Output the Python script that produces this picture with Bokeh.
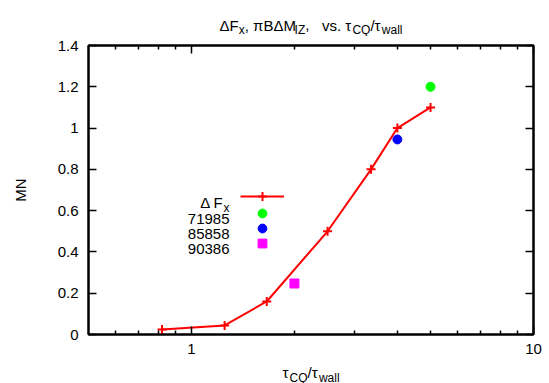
from bokeh.plotting import figure
from bokeh.layouts import column
from bokeh.models import (Range1d, FixedTicker, CustomJSTickFormatter, LogAxis, LinearAxis,
                          Label, Legend, LegendItem)
from bokeh.embed import file_html
from bokeh.resources import INLINE

# ---- data ----
x_fx = [0.82, 1.25, 1.66, 2.5, 3.35, 4.0, 5.0]
y_fx = [0.024, 0.044, 0.16, 0.5, 0.8, 1.0, 1.1]
x_71985 = [5.0]
y_71985 = [1.2]
x_85858 = [4.0]
y_85858 = [0.945]
x_90386 = [2.0]
y_90386 = [0.247]
x_major = [1, 10]
x_minor = [0.6, 0.7, 0.8, 0.9, 2, 3, 4, 5, 6, 7, 8, 9]
y_ticks = [0, 0.2, 0.4, 0.6, 0.8, 1, 1.2, 1.4]

FONT = "Liberation Sans"
FS = 15
SUB = 12
SHIFT = 5

TOTAL_W, TOTAL_H = 549, 383
TITLE_H, XLAB_H = 36, 21
MAIN_H = TOTAL_H - TITLE_H - XLAB_H
FRAME_L = 88  # frame left edge; column layout aligns the frames of the stacked figures

p = figure(width=TOTAL_W, height=MAIN_H, x_axis_type="log",
           x_range=Range1d(0.5, 10), y_range=Range1d(0, 1.4),
           output_backend="svg", toolbar_location=None,
           min_border_left=FRAME_L, min_border_right=16, min_border_top=45 - TITLE_H,
           min_border_bottom=TITLE_H + MAIN_H - 334)
p.title = None
p.grid.visible = False
p.outline_line_color = "black"
p.outline_line_width = 2

xt = FixedTicker(ticks=x_major, minor_ticks=x_minor)
yt = FixedTicker(ticks=y_ticks)
fmt = CustomJSTickFormatter(code="return tick.toString()")
blank = CustomJSTickFormatter(code="return ''")


def style(ax, show):
    ax.axis_line_color = "black"
    ax.axis_line_width = 2
    ax.major_tick_in = 8
    ax.major_tick_out = 0
    ax.minor_tick_in = 4
    ax.minor_tick_out = 0
    ax.major_tick_line_width = 1.5
    ax.minor_tick_line_width = 1.5
    ax.major_tick_line_color = "black"
    ax.minor_tick_line_color = "black"
    ax.major_label_text_font = FONT
    ax.major_label_text_font_size = f"{FS}px"
    ax.major_label_text_color = "black"
    ax.major_label_standoff = 10 if show else 0
    ax.formatter = fmt if show else blank


xa = p.xaxis[0]
xa.ticker = xt
style(xa, True)
xa.major_label_standoff = 9
ya = p.yaxis[0]
ya.ticker = yt
style(ya, True)
ya.axis_label = "MN"
ya.axis_label_text_font = FONT
ya.axis_label_text_font_size = f"{FS}px"
ya.axis_label_text_font_style = "normal"
ya.axis_label_text_color = "black"
ya.axis_label_standoff = 26

top = LogAxis(ticker=FixedTicker(ticks=x_major, minor_ticks=x_minor))
style(top, False)
p.add_layout(top, "above")
right = LinearAxis(ticker=FixedTicker(ticks=y_ticks))
style(right, False)
p.add_layout(right, "right")

# ---- data glyphs ----
r_line = p.line(x_fx, y_fx, line_color="#ff0000", line_width=2)
r_cross = p.scatter(x_fx, y_fx, marker="cross", size=9, line_color="#ff0000", line_width=2)
r_g = p.scatter(x_71985, y_71985, marker="circle", size=9, fill_color="#00ff00", line_color="#00ff00")
r_b = p.scatter(x_85858, y_85858, marker="circle", size=9, fill_color="#0000ff", line_color="#0000ff")
r_m = p.scatter(x_90386, y_90386, marker="square", size=9, fill_color="#ff00ff", line_color="#ff00ff")

# one legend per row (glyph samples to the right of right-aligned texts, like gnuplot)
for rends, bottom in [([r_line, r_cross], 127), ([r_g], 110), ([r_b], 95), ([r_m], 80)]:
    lg = Legend(items=[LegendItem(label=" ", renderers=rends)],
                location=(152, bottom), glyph_width=44, glyph_height=22,
                label_width=0, label_height=22, label_standoff=0, spacing=0,
                padding=0, margin=0, border_line_alpha=0, background_fill_alpha=0,
                label_text_font_size="8px", label_text_alpha=0)
    p.add_layout(lg)

# ---- rich text helpers ----
W = {' ': .278, ',': .278, '.': .278, '/': .278, 'B': .667, 'C': .722, 'F': .611, 'I': .278,
     'M': .833, 'N': .722, 'Q': .778, 'Z': .611, 'a': .556, 'l': .222, 's': .5, 'v': .5,
     'w': .722, 'x': .5, 'Δ': .668, 'π': .6, 'τ': .48}


def width(t, kind):
    if kind == "g":
        return t * FS
    size = SUB if kind == "s" else FS
    return sum(W.get(c, .556) for c in t) * size


def rich(fig, segs, x, y, align="center"):
    total = sum(width(t, k) for t, k in segs)
    left = x - total / 2 if align == "center" else (x - total if align == "right" else x)
    for t, k in segs:
        if k != "g":
            size = SUB if k == "s" else FS
            fig.add_layout(Label(x=left, y=y - (SHIFT if k == "s" else 0), x_units="screen",
                                 y_units="screen", text=t, text_align="left",
                                 text_baseline="alphabetic", text_font=FONT,
                                 text_font_size=f"{size}px", text_color="black"))
        left += width(t, k)


def blank_fig(w, h):
    f = figure(width=w, height=h, x_range=Range1d(0, w), y_range=Range1d(0, h),
               min_border=0, toolbar_location=None, output_backend="svg",
               x_axis_location=None, y_axis_location=None)
    f.grid.visible = False
    f.outline_line_color = None
    f.title = None
    return f


# legend texts inside the main frame
rich(p, [("Δ F", "m"), ("x", "s")], 141, 132, "right")
for name, yy in [("71985", 116), ("85858", 101), ("90386", 86)]:
    rich(p, [(name, "m")], 141, yy, "right")

CENTER = 310.5 - FRAME_L

# title
tf = blank_fig(TOTAL_W, TITLE_H)
rich(tf, [("ΔF", "m"), ("x", "s"), (", πBΔM", "m"), ("IZ", "s"), (",", "m"), (0.834, "g"),
          ("vs. τ", "m"), ("CQ", "s"), ("/τ", "m"), ("wall", "s")], CENTER, TITLE_H - 24.5)

# x label
xf = blank_fig(TOTAL_W, XLAB_H)
rich(xf, [("τ", "m"), ("CQ", "s"), ("/τ", "m"), ("wall", "s")], CENTER, XLAB_H - 10)

layout = column(tf, p, xf)
open("out.html", "w").write(file_html(layout, INLINE))
